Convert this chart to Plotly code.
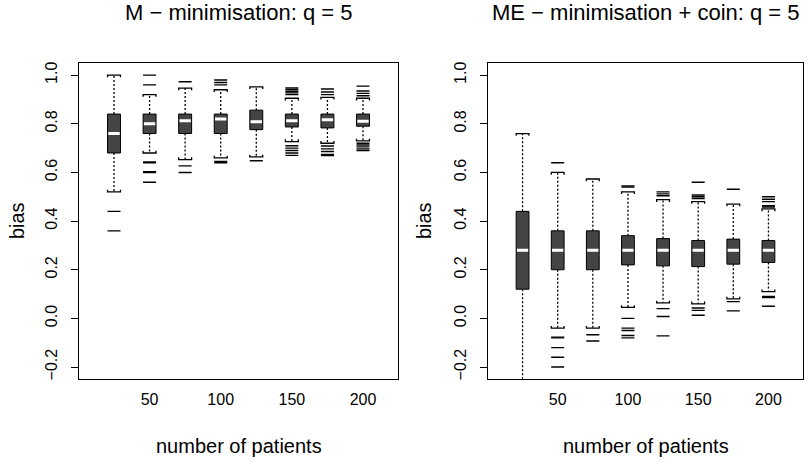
import plotly.graph_objects as go

# ---------------- data ----------------
positions = [25, 50, 75, 100, 125, 150, 175, 200]
x_ticks = [50, 100, 150, 200]
y_ticks = [-0.2, 0.0, 0.2, 0.4, 0.6, 0.8, 1.0]

titles = ["M \u2212 minimisation: q = 5", "ME \u2212 minimisation + coin: q = 5"]
x_label = "number of patients"
y_label = "bias"

# M - minimisation
m_q1 = [0.68, 0.76, 0.76, 0.76, 0.776, 0.787, 0.783, 0.79]
m_med = [0.76, 0.80, 0.813, 0.82, 0.808, 0.813, 0.817, 0.81]
m_q3 = [0.84, 0.84, 0.84, 0.84, 0.856, 0.84, 0.84, 0.84]
m_lo = [0.52, 0.68, 0.653, 0.66, 0.664, 0.727, 0.72, 0.73]
m_hi = [1.0, 0.92, 0.947, 0.94, 0.952, 0.905, 0.909, 0.905]
m_out = [
    [0.44, 0.36],
    [1.0, 0.96, 0.643, 0.64, 0.603, 0.60, 0.56],
    [0.973, 0.627, 0.60],
    [0.98, 0.97, 0.96, 0.645, 0.64],
    [0.648],
    [0.92, 0.927, 0.933, 0.94, 0.947, 0.71, 0.70, 0.69, 0.68, 0.67],
    [0.92, 0.931, 0.943, 0.709, 0.697, 0.686, 0.674, 0.669],
    [0.915, 0.925, 0.935, 0.955, 0.72, 0.713, 0.705, 0.697, 0.69],
]

# ME - minimisation + coin
e_q1 = [0.12, 0.20, 0.20, 0.22, 0.216, 0.213, 0.223, 0.23]
e_med = [0.28, 0.28, 0.28, 0.28, 0.28, 0.28, 0.28, 0.28]
e_q3 = [0.44, 0.36, 0.36, 0.34, 0.328, 0.32, 0.326, 0.32]
e_lo = [-0.32, -0.04, -0.04, 0.045, 0.064, 0.06, 0.08, 0.11]
e_hi = [0.76, 0.60, 0.573, 0.52, 0.488, 0.48, 0.47, 0.45]
e_out = [
    [],
    [0.64, -0.077, -0.08, -0.12, -0.16, -0.20],
    [-0.067, -0.093],
    [0.545, 0.54, 0.0, -0.04, -0.05, -0.07, -0.08],
    [0.52, 0.512, 0.504, 0.04, 0.008, -0.072],
    [0.56, 0.507, 0.50, 0.493, 0.043, 0.033, 0.013],
    [0.531, 0.069, 0.031],
    [0.50, 0.49, 0.48, 0.463, 0.458, 0.09, 0.086, 0.05],
]

# ---------------- style ----------------
FONT = "Liberation Sans, Arial, Helvetica, sans-serif"
HW = 4.55          # half box width (data units of x)
SERIF = 0.009      # staple serif height (data units of y)
BOX_FILL = "#444444"

W, H = 808, 464
px_left = (79, 398)
px_right = (488, 803)
px_y = (62, 380)

def build(q1, med, q3, lo, hi, outs, xa, ya):
    tr = []
    wx, wy = [], []
    bx, by = [], []
    mx, my = [], []
    sx, sy = [], []
    ox, oy = [], []
    for p, a, m, b, l, h, o in zip(positions, q1, med, q3, lo, hi, outs):
        wx += [p, p, None, p, p, None]
        wy += [b, h, None, a, l, None]
        bx += [p - HW, p + HW, p + HW, p - HW, p - HW, None]
        by += [a, a, b, b, a, None]
        mx += [p - HW * 0.88, p + HW * 0.88, None]
        my += [m, m, None]
        sx += [p - HW, p - HW, p + HW, p + HW, None, p - HW, p - HW, p + HW, p + HW, None]
        sy += [h - SERIF, h, h, h - SERIF, None, l + SERIF, l, l, l + SERIF, None]
        for v in o:
            ox.append(p)
            oy.append(v)
    common = dict(xaxis=xa, yaxis=ya, showlegend=False, hoverinfo="skip")
    tr.append(go.Scatter(x=wx, y=wy, mode="lines",
                         line=dict(color="black", width=1.3, dash="2px,2px"), **common))
    tr.append(go.Scatter(x=bx, y=by, mode="lines", fill="toself", fillcolor=BOX_FILL,
                         line=dict(color="black", width=1), **common))
    tr.append(go.Scatter(x=mx, y=my, mode="lines",
                         line=dict(color="white", width=3), **common))
    tr.append(go.Scatter(x=sx, y=sy, mode="lines",
                         line=dict(color="black", width=1.3), **common))
    tr.append(go.Scatter(x=ox, y=oy, mode="markers",
                         marker=dict(symbol="line-ew", size=9.3,
                                     line=dict(color="black", width=1.4)), **common))
    return tr

fig = go.Figure()
for t in build(m_q1, m_med, m_q3, m_lo, m_hi, m_out, "x", "y"):
    fig.add_trace(t)
for t in build(e_q1, e_med, e_q3, e_lo, e_hi, e_out, "x2", "y2"):
    fig.add_trace(t)

xd1 = [px_left[0] / W, px_left[1] / W]
xd2 = [px_right[0] / W, px_right[1] / W]
yd = [1 - px_y[1] / H, 1 - px_y[0] / H]

xcommon = dict(range=[0.4, 224.6], tickvals=x_ticks, ticktext=[str(v) for v in x_ticks],
               ticks="", showgrid=False, zeroline=False, showline=True, mirror=True,
               linecolor="black", linewidth=1, ticklabelstandoff=6,
               tickfont=dict(family=FONT, size=16, color="black"))
ycommon = dict(range=[-0.248, 1.048], tickvals=y_ticks, tickformat=".1f",
               ticks="outside", ticklen=7, tickwidth=1, tickcolor="black",
               tickangle=-90, showgrid=False, zeroline=False, showline=True, mirror=True,
               linecolor="black", linewidth=1, ticklabelstandoff=8,
               tickfont=dict(family=FONT, size=16, color="black"))

fig.update_layout(
    width=W, height=H,
    margin=dict(l=0, r=0, t=0, b=0, pad=0),
    paper_bgcolor="white", plot_bgcolor="white",
    xaxis=dict(domain=xd1, anchor="y", **xcommon),
    yaxis=dict(domain=yd, anchor="x", **ycommon),
    xaxis2=dict(domain=xd2, anchor="y2", **xcommon),
    yaxis2=dict(domain=yd, anchor="x2", **ycommon),
    font=dict(family=FONT, color="black"),
)

ann = []
for xd, ttl, ylx in [(xd1, titles[0], 17), (xd2, titles[1], 424)]:
    cx = (xd[0] + xd[1]) / 2
    ann.append(dict(text=ttl, x=cx, y=1 - 11 / H, xref="paper", yref="paper",
                    xanchor="center", yanchor="middle", showarrow=False,
                    font=dict(family=FONT, size=22, color="black")))
    ann.append(dict(text=x_label, x=cx, y=1 - 448 / H, xref="paper", yref="paper",
                    xanchor="center", yanchor="middle", showarrow=False,
                    font=dict(family=FONT, size=20, color="black")))
    ann.append(dict(text=y_label, x=ylx / W, y=(yd[0] + yd[1]) / 2, xref="paper", yref="paper",
                    xanchor="center", yanchor="middle", textangle=-90, showarrow=False,
                    font=dict(family=FONT, size=20, color="black")))
fig.update_layout(annotations=ann)

fig.write_html("out.html")
